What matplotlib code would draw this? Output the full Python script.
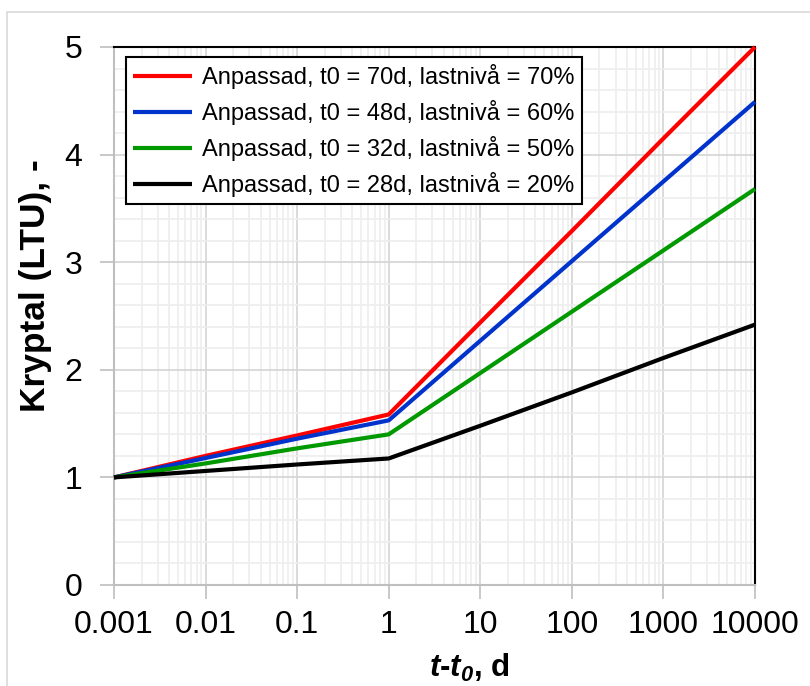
import matplotlib
matplotlib.use("Agg")
import matplotlib.pyplot as plt
from matplotlib.patches import Rectangle
from matplotlib.ticker import LogLocator, MultipleLocator, FixedLocator, FixedFormatter
import numpy as np

plt.rcParams['font.family'] = ['Liberation Sans', 'DejaVu Sans']
plt.rcParams['mathtext.fontset'] = 'custom'
plt.rcParams['mathtext.rm'] = 'Liberation Sans'
plt.rcParams['mathtext.it'] = 'Liberation Sans:italic'
plt.rcParams['mathtext.bf'] = 'Liberation Sans:bold'
plt.rcParams['mathtext.bfit'] = 'Liberation Sans:bold:italic'

# data (t - t0 in days, creep coefficient)
t_days = [0.001, 0.01, 0.1, 1, 10, 100, 1000, 10000]
phi_70 = [1.00, 1.20, 1.39, 1.585, 2.44, 3.29, 4.15, 5.00]
phi_60 = [1.00, 1.18, 1.36, 1.53, 2.27, 3.01, 3.75, 4.49]
phi_50 = [1.00, 1.13, 1.27, 1.40, 1.97, 2.54, 3.11, 3.68]
phi_20 = [1.00, 1.06, 1.12, 1.176, 1.48, 1.79, 2.11, 2.42]

labels = ['Anpassad, t0 = 70d, lastnivå = 70%',
          'Anpassad, t0 = 48d, lastnivå = 60%',
          'Anpassad, t0 = 32d, lastnivå = 50%',
          'Anpassad, t0 = 28d, lastnivå = 20%']
colors = ['#ff0000', '#0033cc', '#009900', '#000000']
xtick_vals = [0.001, 0.01, 0.1, 1, 10, 100, 1000, 10000]
xtick_labels = ['0.001', '0.01', '0.1', '1', '10', '100', '1000', '10000']

fig = plt.figure(figsize=(8.1, 6.86), dpi=100)
ax = fig.add_axes([114/810, 1-585/686, (755-114)/810, (585-47)/686])

# light frame around the whole chart
fig.patches.append(Rectangle((7/810, -0.1), 1.1, 1-12/686+0.1, transform=fig.transFigure,
                             fill=False, edgecolor='#d9d9d9', linewidth=1.2))

for y, lab, c in zip([phi_70, phi_60, phi_50, phi_20], labels, colors):
    ax.plot(t_days, y, color=c, linewidth=3, label=lab, solid_capstyle='butt', clip_on=False, zorder=3)

ax.set_xscale('log')
ax.set_xlim(0.001, 10000)
ax.set_ylim(0, 5)

ax.xaxis.set_major_locator(FixedLocator(xtick_vals))
ax.xaxis.set_major_formatter(FixedFormatter(xtick_labels))
ax.xaxis.set_minor_locator(LogLocator(base=10, subs=np.arange(2, 10), numticks=20))
ax.yaxis.set_major_locator(MultipleLocator(1))
ax.yaxis.set_minor_locator(MultipleLocator(0.2))

ax.grid(which='major', color='#d4d4d4', linewidth=1.2)
ax.grid(which='minor', color='#eeeeee', linewidth=1.2)
ax.set_axisbelow(True)

ax.tick_params(which='major', direction='out', length=10, width=1.2, color='#bfbfbf',
               labelsize=23)
ax.tick_params(axis='x', which='major', pad=8)
ax.tick_params(axis='y', which='major', pad=13)
ax.tick_params(which='minor', length=0)

for side in ['left', 'bottom']:
    ax.spines[side].set_color('#bfbfbf')
    ax.spines[side].set_linewidth(1.5)
for side in ['top', 'right']:
    ax.spines[side].set_color('#000000')
    ax.spines[side].set_linewidth(1.5)

ax.set_ylabel('Kryptal (LTU), -', fontsize=25.5, fontweight='bold')
ax.yaxis.set_label_coords(-0.096, 0.556)
ax.set_xlabel(r'$\mathbfit{t}$-$\mathbfit{t}_{\mathbfit{0}}$, d', fontsize=22.5,
              fontweight='bold')
ax.xaxis.set_label_coords(0.555, -0.125)

leg = ax.legend(loc='upper left', bbox_to_anchor=(0.018, 0.982), fontsize=17,
                frameon=True, fancybox=False, edgecolor='black', framealpha=1,
                handlelength=2.5, handletextpad=0.4, borderpad=0.32, labelspacing=0.46,
                borderaxespad=0)
leg.get_frame().set_linewidth(1.5)

fig.savefig('out.png', dpi=100)
